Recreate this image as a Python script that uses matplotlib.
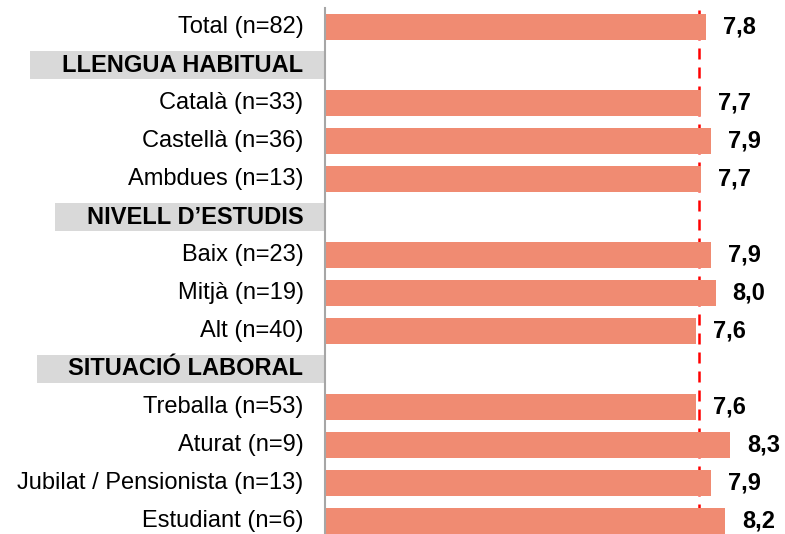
import matplotlib.pyplot as plt
from matplotlib.patches import Rectangle
from matplotlib.transforms import blended_transform_factory

# Files del gràfic: None = capçalera de bloc
etiquetes = ['Total (n=82)', 'LLENGUA HABITUAL', 'Català (n=33)', 'Castellà (n=36)',
             'Ambdues (n=13)', 'NIVELL D\u2019ESTUDIS', 'Baix (n=23)', 'Mitjà (n=19)',
             'Alt (n=40)', 'SITUACIÓ LABORAL', 'Treballa (n=53)', 'Aturat (n=9)',
             'Jubilat / Pensionista (n=13)', 'Estudiant (n=6)']
valors = [7.8, None, 7.7, 7.9, 7.7, None, 7.9, 8.0, 7.6, None, 7.6, 8.3, 7.9, 8.2]
referencia = 7.66

plt.rcParams['font.family'] = ['Liberation Sans', 'DejaVu Sans']

fig = plt.figure(figsize=(7.85, 5.34), dpi=100)
ax = fig.add_axes([324.5 / 785, 0, 1 - 324.5 / 785, 526 / 534])

n = len(etiquetes)
ax.set_ylim(-0.5 + 526 / 38, -0.5)
ax.set_xlim(0, 460.5 / 48.9)

px = 72 / 100  # punts per píxel

for i, (et, v) in enumerate(zip(etiquetes, valors)):
    if v is None:
        continue
    ax.barh(i, v, height=0.66, color='#F08B72', zorder=3)
    ax.annotate(f'{v:.1f}'.replace('.', ','), (v, i), xytext=(17 * px, 0),
                textcoords='offset points', ha='left', va='center',
                fontsize=17, fontweight='bold', color='black')

ax.axvline(referencia, color='#FF0000', lw=1.8, ls=(0, (4.4, 3.2)), zorder=2)

# Etiquetes de l'eix, a mà per poder posar el fons gris a les capçaleres
trans = blended_transform_factory(ax.transAxes, ax.transData)
fig.canvas.draw()
renderer = fig.canvas.get_renderer()
for i, (et, v) in enumerate(zip(etiquetes, valors)):
    if v is None:
        t = ax.text(-21 / 460.5, i, et, transform=trans, ha='right', va='center',
                    fontsize=17, fontweight='bold', zorder=5, clip_on=False)
        bb = t.get_window_extent(renderer)
        x0 = ax.transAxes.inverted().transform((bb.x0 - 32, 0))[0]
        ax.add_patch(Rectangle((x0, i - 0.38), -x0, 0.76, transform=trans,
                               facecolor='#D9D9D9', edgecolor='none',
                               clip_on=False, zorder=4))
    else:
        ax.text(-21 / 460.5, i, et, transform=trans, ha='right', va='center',
                fontsize=17, zorder=5, clip_on=False)

ax.set_yticks([])
ax.set_xticks([])
for s in ['top', 'right', 'bottom']:
    ax.spines[s].set_visible(False)
ax.spines['left'].set_color('#A6A6A6')
ax.spines['left'].set_linewidth(1.5)
ax.spines['left'].set_zorder(6)

fig.savefig('out.png', dpi=100)
